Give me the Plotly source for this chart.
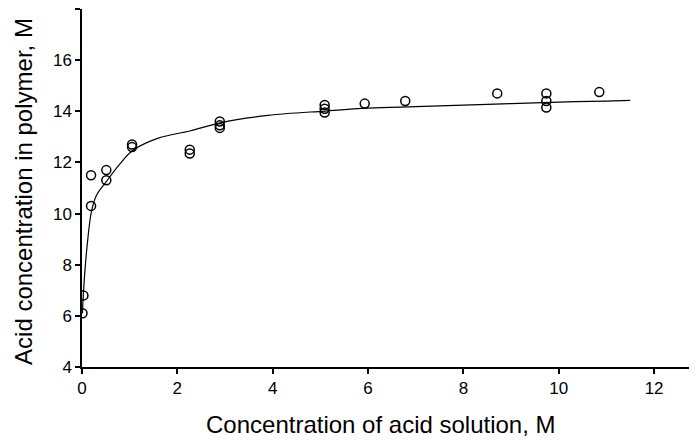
import plotly.graph_objects as go

# measured points
x_pts = [0.01, 0.03, 0.19, 0.19, 0.51, 0.51, 1.05, 1.05, 2.26, 2.26,
         2.89, 2.89, 2.89, 5.09, 5.09, 5.09, 5.93, 6.78, 8.71, 9.74,
         9.74, 9.74, 10.85]
y_pts = [6.1, 6.8, 10.3, 11.5, 11.7, 11.3, 12.7, 12.6, 12.5, 12.35,
         13.6, 13.45, 13.35, 14.25, 14.1, 13.95, 14.3, 14.4, 14.7, 14.7,
         14.4, 14.15, 14.75]

# fitted curve
x_fit = [0.01, 0.03, 0.1, 0.2, 0.3, 0.51, 0.8, 1.05, 1.6, 2.26, 2.9,
         3.9, 5.1, 6.0, 7.0, 8.0, 9.0, 10.0, 11.0, 11.5]
y_fit = [6.1, 6.9, 8.6, 10.1, 10.7, 11.25, 11.95, 12.45, 12.95, 13.23,
         13.55, 13.84, 14.01, 14.12, 14.18, 14.24, 14.3, 14.36, 14.4, 14.43]

x_ticks = [0, 2, 4, 6, 8, 10, 12]
y_ticks = [4, 6, 8, 10, 12, 14, 16, 18]

FONT = "Liberation Sans, Arial, sans-serif"

fig = go.Figure()
fig.add_trace(go.Scatter(x=x_fit, y=y_fit, mode="lines",
                         line=dict(color="black", width=1.2, shape="spline"),
                         showlegend=False, hoverinfo="skip"))
fig.add_trace(go.Scatter(x=x_pts, y=y_pts, mode="markers",
                         marker=dict(symbol="circle-open", size=9, color="black",
                                     line=dict(color="black", width=1.5)),
                         showlegend=False))

# the page body has an 8px margin, so the figure is sized/offset to compensate
fig.update_layout(
    width=689, height=433,
    margin=dict(l=74, r=0, t=1, b=74),
    paper_bgcolor="white", plot_bgcolor="white",
    font=dict(family=FONT, color="black", size=17),
    xaxis=dict(range=[0, 12.9], tickvals=x_ticks, ticks="outside", ticklen=5,
               tickwidth=1.5, tickcolor="black", showline=True, linecolor="black",
               linewidth=1.5, showgrid=False, zeroline=False, automargin=False,
               tickfont=dict(size=17, family=FONT)),
    yaxis=dict(range=[4, 18], tickvals=y_ticks, ticks="outside", ticklen=5,
               tickwidth=1.5, tickcolor="black", showline=True, linecolor="black",
               linewidth=1.5, showgrid=False, zeroline=False, automargin=False,
               tickfont=dict(size=17, family=FONT)),
    annotations=[
        dict(text="Concentration of acid solution, M", xref="paper", yref="paper",
             x=0.486, y=-0.162, xanchor="center", yanchor="middle", showarrow=False,
             font=dict(size=24, family=FONT)),
        dict(text="Acid concentration in polymer, M", xref="paper", yref="paper",
             x=-0.0943, y=0.489, xanchor="center", yanchor="middle", showarrow=False,
             textangle=-90, font=dict(size=24, family=FONT)),
    ],
)

fig.write_html("out.html")
